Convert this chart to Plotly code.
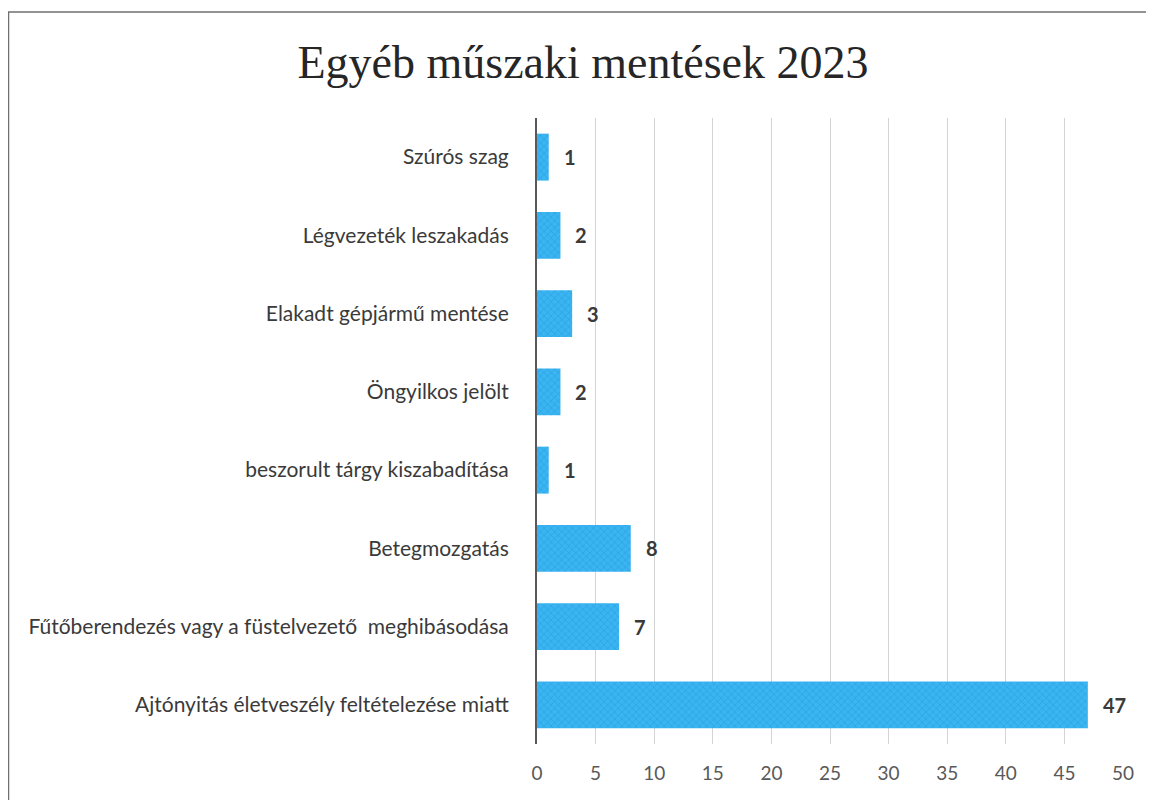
import plotly.graph_objects as go

title = "Egyéb műszaki mentések 2023"
categories = [
    "Szúrós szag",
    "Légvezeték leszakadás",
    "Elakadt gépjármű mentése",
    "Öngyilkos jelölt",
    "beszorult tárgy kiszabadítása",
    "Betegmozgatás",
    "Fűtőberendezés vagy a füstelvezető  meghibásodása",
    "Ajtónyitás életveszély feltételezése miatt",
]
values = [1, 2, 3, 2, 1, 8, 7, 47]
x_ticks = [0, 5, 10, 15, 20, 25, 30, 35, 40, 45, 50]

# page offset of 8px (body margin) compensated
W, H = 1146, 792
L, R, T, B = 529, 31, 110, 56
pw, ph = W - L - R, H - T - B

fig = go.Figure()
fig.add_trace(go.Bar(
    x=values, y=categories, orientation="h",
    marker=dict(
        color="#2FAAEC",
        line=dict(width=0),
        pattern=dict(shape="x", bgcolor="#3BB4F2", fgcolor="#1A8ED2",
                     size=5, solidity=0.25),
    ),
    hoverinfo="skip",
))

for v, c in zip(values, categories):
    fig.add_annotation(x=v, y=c, xref="x", yref="y", text=f"<b>{v}</b>",
                       showarrow=False, xanchor="left", xshift=13,
                       font=dict(family="Lato, Liberation Sans, sans-serif", size=20, color="#3A3A3A"))

def px_to_paper_x(px):
    return (px - L) / pw

def px_to_paper_y(py):
    return (H - B - py) / ph

fig.add_shape(type="rect", xref="paper", yref="paper",
              x0=px_to_paper_x(0.5), x1=px_to_paper_x(1200),
              y0=px_to_paper_y(840), y1=px_to_paper_y(4),
              line=dict(color="#707070", width=1.5), fillcolor="rgba(0,0,0,0)", layer="below")

fig.update_layout(
    width=W, height=H,
    margin=dict(l=L, r=R, t=T, b=B),
    paper_bgcolor="white", plot_bgcolor="white",
    bargap=0.4,
    showlegend=False,
    title=dict(text=title, x=575 / W, xanchor="center", y=1 - 54 / H, yanchor="middle",
               xref="container", yref="container",
               font=dict(family="Liberation Serif, Times New Roman, serif", size=46, color="#262626")),
    xaxis=dict(range=[0, 50], tickvals=x_ticks, showgrid=True, gridcolor="#D4D4D4", gridwidth=1,
               zeroline=False, showline=False, ticks="", ticklabelstandoff=16,
               tickfont=dict(family="Lato, Liberation Sans, sans-serif", size=19, color="#595959")),
    yaxis=dict(autorange="reversed", showgrid=False, zeroline=False, showline=True,
               linecolor="#595959", linewidth=2, ticks="", ticklabelstandoff=22,
               tickfont=dict(family="Lato, Liberation Sans, sans-serif", size=21, color="#3A3A3A")),
)

fig.write_html("out.html")
